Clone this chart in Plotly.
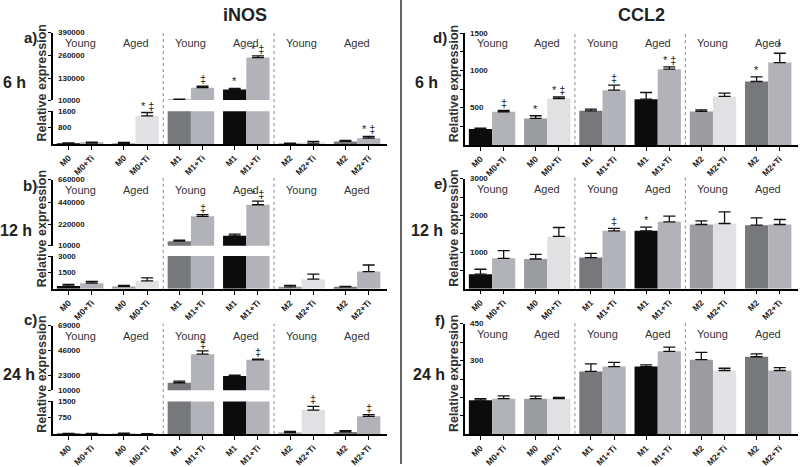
import plotly.graph_objects as go

W, H = 800, 467

BAR_LABELS = ["M0", "M0+Ti", "M0", "M0+Ti", "M1", "M1+Ti",
              "M1", "M1+Ti", "M2", "M2+Ti", "M2", "M2+Ti"]
AGE_LABELS = ["Young", "Aged", "Young", "Aged", "Young", "Aged"]
BAR_COLORS = ["#0c0c0c", "#b2b3b8", "#9b9ca0", "#e1e1e4", "#77787c", "#b2b3b8",
              "#0c0c0c", "#b2b3b8", "#9b9ca0", "#e1e1e4", "#77787c", "#b2b3b8"]

# iNOS
INOS_6H = [32, 48, 32, 1380, 13000, 80000, 70000, 250000, 32, 48, 130, 290]
INOS_6H_ERR = [30, 50, 50, 160, 2000, 8000, 6000, 10000, 16, 80, 50, 80]
INOS_6H_SIG = ["", "", "", "* ‡", "", "‡", "*", "* ‡", "", "", "", "* ‡"]

INOS_12H = [270, 520, 220, 730, 55000, 300000, 108000, 414000, 180, 880, 180, 1580]
INOS_12H_ERR = [130, 150, 90, 270, 10000, 17000, 16000, 36000, 130, 460, 50, 600]
INOS_12H_SIG = ["", "", "", "", "", "‡", "", "* ‡", "", "", "", ""]

INOS_24H = [15, 15, 20, 10, 16800, 42900, 23000, 37800, 64, 1100, 92, 812]
INOS_24H_ERR = [10, 10, 15, 5, 1500, 3000, 700, 600, 46, 170, 63, 78]
INOS_24H_SIG = ["", "", "", "", "", "‡", "", "‡", "", "‡", "", "‡"]

# CCL2
CCL2_6H = [214, 446, 357, 625, 459, 736, 616, 1018, 451, 652, 853, 1107]
CCL2_6H_ERR = [14, 18, 36, 22, 23, 67, 89, 31, 22, 44, 62, 125]
CCL2_6H_SIG = ["", "‡", "*", "* ‡", "", "‡", "", "* ‡", "", "", "*", "*"]

CCL2_12H = [394, 829, 810, 1427, 848, 1580, 1580, 1826, 1752, 1780, 1734, 1752]
CCL2_12H_ERR = [136, 211, 128, 244, 117, 65, 100, 154, 101, 318, 201, 137]
CCL2_12H_SIG = ["", "", "", "", "", "‡", "*", "", "", "", "", ""]

CCL2_24H = [139, 145, 145, 145, 256, 276, 276, 338, 304, 260, 316, 260]
CCL2_24H_ERR = [6, 11, 10, 5, 31, 17, 7, 17, 30, 9, 12, 12]
CCL2_24H_SIG = [""] * 12

FONT = "Liberation Sans, Arial, sans-serif"
BAR_W = 0.42
XS = [k // 2 + (k % 2 - 0.5) * BAR_W for k in range(12)]
XRANGE = [-0.49, 5.54]

fig = go.Figure()
layout = {}
annotations = []
shapes = []
axis_no = [0]


def px(y):
    return 1 - y / H


def text(x, y, s, size, color='#222', **kw):
    d = dict(x=x / W, y=px(y), xref='paper', yref='paper', text=s, showarrow=False,
             xanchor='center', yanchor='middle', font=dict(family=FONT, size=size, color=color))
    d.update(kw)
    annotations.append(d)


def add_panel(vals, errs, sigs, x0, x1, segments, letter, letter_pos, time_label, time_pos):
    ids = []
    nseg = len(segments)
    for i, seg in enumerate(segments):
        axis_no[0] += 1
        n = axis_no[0]
        ids.append(n)
        xk = 'xaxis' if n == 1 else f'xaxis{n}'
        yk = 'yaxis' if n == 1 else f'yaxis{n}'
        xa = dict(domain=[x0 / W, x1 / W], range=XRANGE, anchor=f'y{n}',
                  showgrid=False, zeroline=False)
        if i == 0:
            xa.update(showline=True, linecolor='black', linewidth=1.5,
                      ticks='outside', ticklen=4, tickwidth=1.2, tickcolor='black',
                      tickvals=XS, ticktext=BAR_LABELS, tickangle=-45,
                      tickfont=dict(family=FONT, size=8.5, color='#222', weight='bold'))
        else:
            xa.update(visible=False)
        ya = dict(domain=[px(seg['bottom']), px(seg['top'])], range=seg['range'],
                  anchor=f'x{n}', showgrid=False, zeroline=False,
                  showline=True, linecolor='black', linewidth=1.5,
                  ticks='outside', ticklen=3, tickwidth=1.2, tickcolor='black',
                  tickvals=seg['ticks'], showticklabels=False)
        if seg.get('minor'):
            ya['minor'] = dict(tickvals=seg['minor'], ticks='outside', ticklen=3,
                               tickwidth=1.2, tickcolor='black')
        layout[xk] = xa
        layout[yk] = ya

        # upper segment of a broken axis only carries the bars that reach it
        if i > 0:
            yv = [v if v > seg['range'][0] else None for v in vals]
        else:
            yv = vals
        fig.add_trace(go.Bar(
            x=XS, y=yv, width=BAR_W,
            marker=dict(color=BAR_COLORS, line=dict(width=0)),
            error_y=dict(type='data', symmetric=False, array=errs, arrayminus=[0] * 12,
                         color='#111', thickness=1.3, width=6),
            xaxis=f'x{n}', yaxis=f'y{n}', hoverinfo='skip',
        ))

        # y tick labels sit just right of the axis line
        lo, hi = seg['range']
        y_top, y_bot = seg['top'], seg['bottom']
        for t in seg['ticks']:
            ty = y_bot - (t - lo) / (hi - lo) * (y_bot - y_top)
            text(x0 + 3, ty, f'{t}', 8, '#222', xanchor='left',
                 font=dict(family=FONT, size=8, color='#222', weight='bold'))

    top_seg = segments[-1]
    bottom_seg = segments[0]
    # significance marks
    for k in range(12):
        if not sigs[k]:
            continue
        top = vals[k] + errs[k]
        idx = nseg - 1 if top > top_seg['range'][0] else 0
        n = ids[idx]
        annotations.append(dict(x=XS[k], y=top, xref=f'x{n}', yref=f'y{n}',
                                text=sigs[k], showarrow=False, xanchor='center',
                                yanchor='bottom', yshift=-1,
                                font=dict(family=FONT, size=11, color='#222')))
    # group separators
    for sx in (1.5, 3.5):
        shapes.append(dict(type='line', xref=f'x{ids[0]}', yref='paper', x0=sx, x1=sx,
                           y0=px(bottom_seg['bottom']), y1=px(top_seg['top'] - 2),
                           line=dict(color='#8a8a8a', width=1, dash='dot')))
    # Young / Aged labels
    for p, lab in enumerate(AGE_LABELS):
        annotations.append(dict(x=p, y=px(top_seg['top'] + 10), xref=f'x{ids[0]}', yref='paper',
                                text=lab, showarrow=False, xanchor='center', yanchor='middle',
                                font=dict(family=FONT, size=11, color='#333')))
    # axis title
    text(x0 - 11, (top_seg['top'] + bottom_seg['bottom']) / 2 - 5,
         '<b>Relative expression</b>', 12.5, '#333', textangle=-90)
    text(letter_pos[0], letter_pos[1], f'<b>{letter}</b>', 15)
    text(time_pos[0], time_pos[1], f'<b>{time_label}</b>', 16)


LX0, LX1 = 53, 387
RX0, RX1 = 465, 798

add_panel(INOS_6H, INOS_6H_ERR, INOS_6H_SIG, LX0, LX1, [
    dict(top=112, bottom=145, range=[0, 1600], ticks=[800, 1600]),
    dict(top=33, bottom=100.7, range=[10000, 390000], ticks=[10000, 130000, 260000, 390000]),
], 'a)', (30, 38), '6 h', (14, 83))
add_panel(INOS_12H, INOS_12H_ERR, INOS_12H_SIG, LX0, LX1, [
    dict(top=257.7, bottom=290.7, range=[0, 3000], ticks=[1500, 3000]),
    dict(top=181, bottom=247.3, range=[10000, 660000], ticks=[10000, 220000, 440000, 660000]),
], 'b)', (30, 187), '12 h', (16, 232))
add_panel(INOS_24H, INOS_24H_ERR, INOS_24H_SIG, LX0, LX1, [
    dict(top=404, bottom=436.7, range=[0, 1500], ticks=[750, 1500]),
    dict(top=327.7, bottom=392.7, range=[10000, 69000], ticks=[10000, 23000, 46000, 69000]),
], 'c)', (30, 322), '24 h', (19, 377))

add_panel(CCL2_6H, CCL2_6H_ERR, CCL2_6H_SIG, RX0, RX1, [
    dict(top=33.5, bottom=146, range=[0, 1500], ticks=[500, 1000, 1500], minor=[250, 750, 1250]),
], 'd)', (440, 38), '6 h', (427, 83))
add_panel(CCL2_12H, CCL2_12H_ERR, CCL2_12H_SIG, RX0, RX1, [
    dict(top=180, bottom=290.5, range=[0, 3000], ticks=[1000, 2000, 3000], minor=[500, 1500, 2500]),
], 'e)', (440, 185), '12 h', (427, 232))
add_panel(CCL2_24H, CCL2_24H_ERR, CCL2_24H_SIG, RX0, RX1, [
    dict(top=326, bottom=437, range=[0, 450], ticks=[300, 450], minor=[75, 150, 225, 375]),
], 'f)', (440, 323), '24 h', (429, 377))

# gene titles
text(245, 15, '<b>iNOS</b>', 18)
text(641, 15, '<b>CCL2</b>', 18)
# divider between the two genes
shapes.append(dict(type='line', xref='paper', yref='paper', x0=401 / W, x1=401 / W, y0=0, y1=1,
                   line=dict(color='#333', width=1.5)))

fig.update_layout(
    **layout,
    width=W, height=H,
    margin=dict(l=0, r=0, t=0, b=0),
    paper_bgcolor='white', plot_bgcolor='white',
    showlegend=False,
    annotations=annotations,
    shapes=shapes,
)

fig.write_html("out.html", config={'displayModeBar': False},
               post_script="document.body.style.margin='0';")
